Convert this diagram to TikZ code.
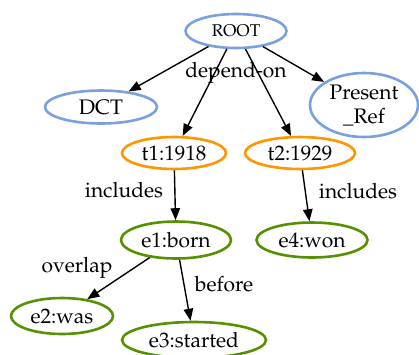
\documentclass[tikz,border=0pt]{standalone}
\usepackage[T1]{fontenc}
\usepackage{mathpazo}
\usetikzlibrary{shapes.geometric,arrows.meta}
\definecolor{rootblue}{RGB}{122,160,222}
\definecolor{timeorange}{RGB}{255,150,0}
\definecolor{eventgreen}{RGB}{85,145,0}
\tikzset{
  ent/.style={ellipse,draw,line width=2.6pt,inner sep=0pt,
    font=\fontsize{21}{22}\selectfont},
  rootnode/.style={ent,draw=rootblue},
  timenode/.style={ent,draw=timeorange},
  eventnode/.style={ent,draw=eventgreen},
  rel/.style={line width=1.4pt,-{Triangle[length=12pt,width=9.5pt]}},
  lbl/.style={font=\fontsize{21}{22}\selectfont,inner sep=0pt}
}
\begin{document}
\begin{tikzpicture}[x=1pt,y=-1pt]
\useasboundingbox (0,0) rectangle (419,354);
% nodes
\node[rootnode,minimum width=101pt,minimum height=34pt,font=\fontsize{17}{18}\selectfont] (root) at (236,31) {ROOT};
\node[rootnode,minimum width=112pt,minimum height=33pt] (dct) at (101,107) {DCT};
\node[rootnode,minimum width=108pt,minimum height=64pt,align=center,font=\fontsize{21}{24}\selectfont] (pres) at (364,105) {Present\\\_Ref};
\node[timenode,minimum width=104pt,minimum height=32pt] (t1) at (174,153) {t1:1918};
\node[timenode,minimum width=110pt,minimum height=32pt] (t2) at (300,153) {t2:1929};
\node[eventnode,minimum width=110pt,minimum height=37pt] (e1) at (176,240) {e1:born};
\node[eventnode,minimum width=111pt,minimum height=35pt] (e4) at (312,240) {e4:won};
\node[eventnode,minimum width=102pt,minimum height=36pt] (e2) at (62,316) {e2:was};
\node[eventnode,minimum width=144pt,minimum height=36pt] (e3) at (194,340) {e3:started};
% relations
\draw[rel] (root) -- (dct);
\draw[rel] (root) -- (t1);
\draw[rel] (root) -- (t2);
\draw[rel] (root) -- (pres);
\draw[rel] (t1) -- (e1);
\draw[rel] (t2) -- (e4);
\draw[rel] (e1) -- (e2);
\draw[rel] (e1) -- (e3);
% relation labels
\node[lbl] (ldep) at (236,73) {depend-on};
\node[lbl] (linc1) at (124,190) {includes};
\node[lbl] (linc2) at (358,191) {includes};
\node[lbl] (lovl) at (77,268) {overlap};
\node[lbl] (lbef) at (224,284) {before};
\end{tikzpicture}
\end{document}
